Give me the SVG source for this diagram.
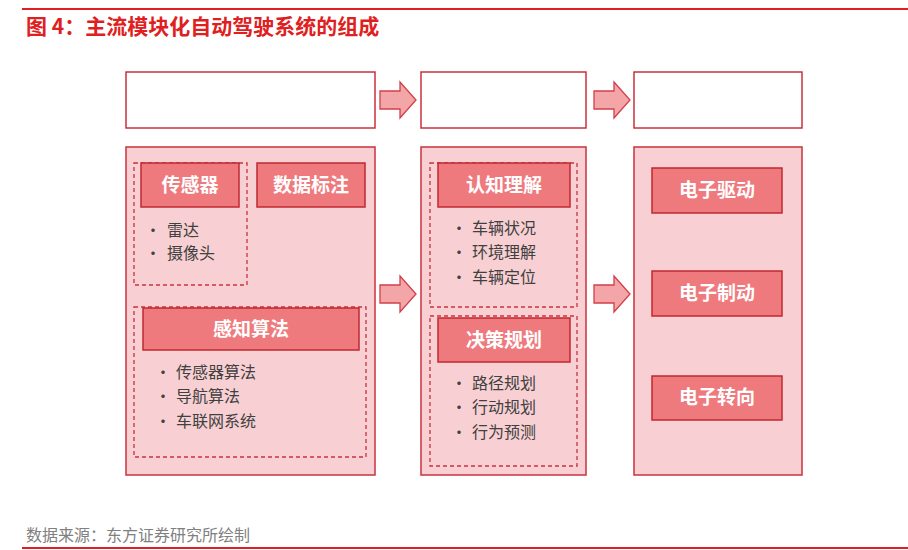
<svg xmlns="http://www.w3.org/2000/svg" width="908" height="550" viewBox="0 0 908 550">
<defs>
<style>
.f{font-family:"Noto Sans CJK SC","Noto Sans",sans-serif}
.top{fill:#fff;stroke:#c8323c;stroke-width:1.5}
.pan{fill:#f8d0d3;stroke:#c8323c;stroke-width:1.5}
.hd{fill:#ef7a7e;stroke:#c0282f;stroke-width:1.5}
.ds{fill:none;stroke:#c8323c;stroke-width:1.3;stroke-dasharray:4 3}
.ht{fill:#fff;font-size:19px;font-weight:bold;text-anchor:middle}
.it{fill:#404040;font-size:16px}
.ar{fill:#f4a5a8;stroke:#d04048;stroke-width:1.3}
</style>
<path id="arr" d="M0,-9 H20 V-18 L36,0 L20,18 V9 H0 Z"/>
</defs>
<rect width="908" height="550" fill="#fff"/>
<line x1="22" y1="9" x2="908" y2="9" stroke="#e02020" stroke-width="2"/>
<text x="26" y="34" class="f" font-size="21" font-weight="bold" fill="#e02020">图 4：主流模块化自动驾驶系统的组成</text>
<g id="tops">
<rect class="top" x="126" y="72" width="249" height="56"/>
<rect class="top" x="421" y="72" width="165" height="56"/>
<rect class="top" x="634" y="72" width="168" height="56"/>
</g>
<g id="connectors">
<use href="#arr" class="ar" x="380" y="100"/>
<use href="#arr" class="ar" x="594" y="100"/>
<use href="#arr" class="ar" x="380" y="294"/>
<use href="#arr" class="ar" x="594" y="294"/>
</g>
<g id="perception">
<rect class="pan" x="126" y="147" width="249" height="328"/>
<rect class="ds" x="134" y="163" width="113" height="122"/>
<rect class="hd" x="141" y="163" width="98" height="44"/>
<text class="f ht" x="190" y="192">传感器</text>
<rect class="hd" x="257" y="163" width="108" height="44"/>
<text class="f ht" x="311" y="192">数据标注</text>
<text class="f it" x="145" y="236">•</text><text class="f it" x="167" y="236">雷达</text>
<text class="f it" x="145" y="259">•</text><text class="f it" x="167" y="259">摄像头</text>
<rect class="ds" x="134" y="307" width="232" height="150"/>
<rect class="hd" x="143" y="308" width="216" height="42"/>
<text class="f ht" x="251" y="336">感知算法</text>
<text class="f it" x="155" y="378">•</text><text class="f it" x="176" y="378">传感器算法</text>
<text class="f it" x="155" y="402">•</text><text class="f it" x="176" y="402">导航算法</text>
<text class="f it" x="155" y="427">•</text><text class="f it" x="176" y="427">车联网系统</text>
</g>
<g id="decision">
<rect class="pan" x="421" y="147" width="165" height="328"/>
<rect class="ds" x="430" y="163" width="147" height="144"/>
<rect class="hd" x="438" y="163" width="132" height="44"/>
<text class="f ht" x="504" y="192">认知理解</text>
<text class="f it" x="451" y="234">•</text><text class="f it" x="472" y="234">车辆状况</text>
<text class="f it" x="451" y="258">•</text><text class="f it" x="472" y="258">环境理解</text>
<text class="f it" x="451" y="283">•</text><text class="f it" x="472" y="283">车辆定位</text>
<rect class="ds" x="430" y="316" width="147" height="150"/>
<rect class="hd" x="438" y="318" width="132" height="44"/>
<text class="f ht" x="504" y="347">决策规划</text>
<text class="f it" x="451" y="389">•</text><text class="f it" x="472" y="389">路径规划</text>
<text class="f it" x="451" y="413">•</text><text class="f it" x="472" y="413">行动规划</text>
<text class="f it" x="451" y="438">•</text><text class="f it" x="472" y="438">行为预测</text>
</g>
<g id="control">
<rect class="pan" x="634" y="147" width="168" height="328"/>
<rect class="hd" x="652" y="168" width="130" height="45"/>
<text class="f ht" x="717" y="197">电子驱动</text>
<rect class="hd" x="652" y="271" width="130" height="45"/>
<text class="f ht" x="717" y="300">电子制动</text>
<rect class="hd" x="652" y="376" width="130" height="44"/>
<text class="f ht" x="717" y="404">电子转向</text>
</g>
<text x="26" y="541" class="f" font-size="16" fill="#808080">数据来源：东方证券研究所绘制</text>
<line x1="22" y1="548" x2="908" y2="548" stroke="#e02020" stroke-width="2"/>
</svg>
